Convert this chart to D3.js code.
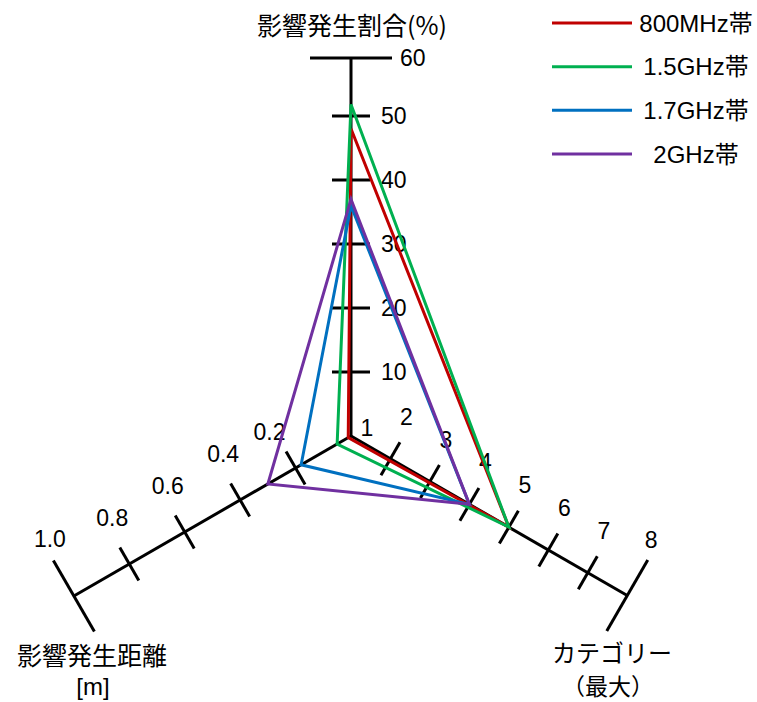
<!DOCTYPE html>
<html>
<head>
<meta charset="utf-8">
<script src="https://cdn.jsdelivr.net/npm/d3@7"></script>
<style>
body{margin:0;background:#fff}
text{font-family:"Liberation Sans","Noto Sans CJK JP",sans-serif;fill:#000}
.jp{font-family:"Noto Sans CJK JP",sans-serif}
</style>
</head>
<body>
<div class="chart"></div>
<script>
var series = ["800MHz帯", "1.5GHz帯", "1.7GHz帯", "2GHz帯"]
var ratio = [48, 52, 36, 37]          // 影響発生割合(%)
var distance = [0.01, 0.05, 0.18, 0.30] // 影響発生距離[m]
var category = [5, 5, 4, 4]           // カテゴリー(最大)
var ratioTicks = [10, 20, 30, 40, 50, 60]
var distTicks = [0.2, 0.4, 0.6, 0.8, 1.0]
var catTicks = [1, 2, 3, 4, 5, 6, 7, 8]
var colors = ["#C00000", "#00B050", "#0070C0", "#7030A0"]

var width = 757, height = 702
var cx = 351, cy = 436
var svg = d3.select(".chart").append("svg").attr("width", width).attr("height", height)

var rRatio = d3.scaleLinear().domain([0, 50, 60]).range([0, 320, 378])
var rDist = d3.scaleLinear().domain([0, 1]).range([0, 320])
var rCat = d3.scaleLinear().domain([1, 8]).range([0, 319])

// 3 axes: up, down-right, down-left
var axes = [
    {scale: rRatio, ticks: ratioTicks, angle: -90, fmt: function(d){ return d }},
    {scale: rCat, ticks: catTicks, angle: 30, fmt: function(d){ return d }},
    {scale: rDist, ticks: distTicks, angle: 150, fmt: d3.format(".1f")}
]

function pt(axis, v){
    var a = axis.angle * Math.PI / 180, r = axis.scale(v)
    return [cx + r * Math.cos(a), cy + r * Math.sin(a)]
}

var gAxis = svg.append("g")
axes.forEach(function(axis, k){
    var a = axis.angle * Math.PI / 180
    var last = axis.ticks[axis.ticks.length - 1]
    var end = pt(axis, last)
    gAxis.append("line").attr("x1", cx).attr("y1", cy).attr("x2", end[0]).attr("y2", end[1])
        .attr("stroke", "#000").attr("stroke-width", 3)
    var nx = -Math.sin(a), ny = Math.cos(a)
    gAxis.selectAll(".t" + k).data(axis.ticks).enter().append("line")
        .attr("x1", function(d){ var h = d == last ? 41 : 19; return pt(axis, d)[0] - nx * h })
        .attr("y1", function(d){ var h = d == last ? 41 : 19; return pt(axis, d)[1] - ny * h })
        .attr("x2", function(d){ var h = d == last ? 41 : 19; return pt(axis, d)[0] + nx * h })
        .attr("y2", function(d){ var h = d == last ? 41 : 19; return pt(axis, d)[1] + ny * h })
        .attr("stroke", function(d){ return axis.scale(d) == 0 ? "none" : "#000" })
        .attr("stroke-width", 3)
})

// tick labels
svg.append("g").selectAll("text").data(ratioTicks).enter().append("text")
    .attr("x", function(d){ return cx + (d == 60 ? 49 : 30) })
    .attr("y", function(d){ return pt(axes[0], d)[1] })
    .attr("dominant-baseline", "central").attr("font-size", "23px")
    .text(function(d){ return d })

svg.append("g").selectAll("text").data(catTicks).enter().append("text")
    .attr("x", function(d){ var off = d == 1 ? 16 : d == 8 ? 24 : 16; return pt(axes[1], d)[0] + off })
    .attr("y", function(d){ var off = d == 1 ? -8 : d == 8 ? -56 : -42; return pt(axes[1], d)[1] + off })
    .attr("text-anchor", "middle").attr("dominant-baseline", "central").attr("font-size", "23px")
    .text(function(d){ return d })

svg.append("g").selectAll("text").data(distTicks).enter().append("text")
    .attr("x", function(d){ var off = d == 0.2 ? -26 : d == 1 ? -24 : -17; return pt(axes[2], d)[0] + off })
    .attr("y", function(d){ var off = d == 0.2 ? -36 : d == 1 ? -57 : -46; return pt(axes[2], d)[1] + off })
    .attr("text-anchor", "middle").attr("dominant-baseline", "central").attr("font-size", "23px")
    .text(axes[2].fmt)

// axis titles
var titles = [
    {t: "影響発生割合(%)", x: 352, y: 24, jp: 1, fs: 25},
    {t: "影響発生距離", x: 92, y: 654, jp: 1, fs: 25},
    {t: "[m]", x: 93, y: 686, jp: 0, fs: 24},
    {t: "カテゴリー", x: 612, y: 651, jp: 1, fs: 24},
    {t: "（最大）", x: 608, y: 685, jp: 1, fs: 23}
]
svg.append("g").selectAll("text").data(titles).enter().append("text")
    .attr("class", function(d){ return d.jp ? "jp" : null })
    .attr("x", function(d){ return d.x }).attr("y", function(d){ return d.y })
    .attr("text-anchor", "middle").attr("dominant-baseline", "central")
    .attr("font-size", function(d){ return d.fs + "px" })
    .text(function(d){ return d.t })

// series polygons
var line = d3.line().curve(d3.curveLinearClosed)
svg.append("g").selectAll("path").data(series).enter().append("path")
    .attr("d", function(d, i){
        return line([pt(axes[0], ratio[i]), pt(axes[1], category[i]), pt(axes[2], distance[i])])
    })
    .attr("fill", "none").attr("stroke", function(d, i){ return colors[i] })
    .attr("stroke-width", 3).attr("stroke-linejoin", "miter")

// legend
var ly = d3.scalePoint().domain(series).range([23, 154])
var legend = svg.append("g").selectAll("g").data(series).enter().append("g")
legend.append("line").attr("x1", 552).attr("x2", 632)
    .attr("y1", function(d){ return ly(d) }).attr("y2", function(d){ return ly(d) })
    .attr("stroke", function(d, i){ return colors[i] }).attr("stroke-width", 3)
legend.append("text").attr("x", 696).attr("y", function(d){ return ly(d) })
    .attr("text-anchor", "middle").attr("dominant-baseline", "central").attr("font-size", "24px")
    .text(function(d){ return d })
</script>
</body>
</html>
